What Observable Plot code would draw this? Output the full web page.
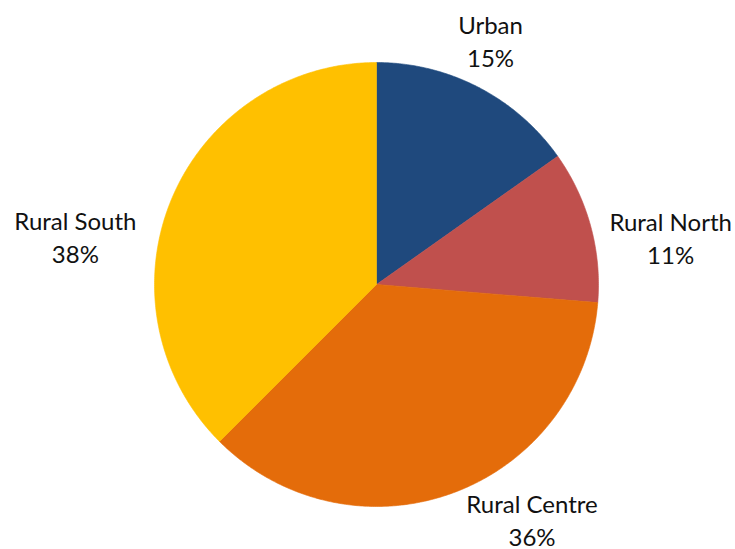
<!DOCTYPE html>
<html>
<head>
<meta charset="utf-8">
<script src="https://cdn.jsdelivr.net/npm/d3@7"></script>
<script src="https://cdn.jsdelivr.net/npm/@observablehq/plot@0.6"></script>
<style>
  html, body { margin: 0; padding: 0; background: #fff; }
  #chart { width: 735px; height: 549px; }
</style>
</head>
<body>
<div id="chart"></div>
<script>
// Data
const categories = ["Urban", "Rural North", "Rural Centre", "Rural South"];
const shares = [15.2, 11.1, 36.2, 37.5];
const percentLabels = ["15%", "11%", "36%", "38%"];
const colors = ["#1F497D", "#C0504D", "#E46C0A", "#FFC000"];

// Layout (pixel geometry, not data)
const W = 735, H = 549;
const cx = 376, cy = 284, R = 222;
const labelNudge = {
  "Urban": [12, -47],
  "Rural North": [80, 11],
  "Rural Centre": [79, 26],
  "Rural South": [-96, 36]
};

const table = categories.map((c, i) => ({name: c, value: shares[i], label: c + "\n" + percentLabels[i]}));
const arcs = d3.pie().sort(null).value(d => d.value)(table);

// build slice outlines from the pie angles
const pts = [];
for (const a of arcs) {
  const n = Math.max(2, Math.ceil((a.endAngle - a.startAngle) / (Math.PI / 360)));
  pts.push({name: a.data.name, x: 0, y: 0});
  for (let k = 0; k <= n; k++) {
    const t = a.startAngle + (a.endAngle - a.startAngle) * k / n;
    pts.push({name: a.data.name, x: R * Math.sin(t), y: R * Math.cos(t)});
  }
  pts.push({name: a.data.name, x: 0, y: 0});
}

const labels = arcs.map(a => {
  const m = (a.startAngle + a.endAngle) / 2;
  const [nx, ny] = labelNudge[a.data.name];
  return {name: a.data.name, label: a.data.label, x: R * Math.sin(m) + nx, y: R * Math.cos(m) - ny};
});

const chart = Plot.plot({
  width: W,
  height: H,
  margin: 0,
  x: {domain: [-cx, W - cx], range: [0, W], axis: null},
  y: {domain: [-(H - cy), cy], range: [H, 0], axis: null},
  color: {domain: categories, range: colors},
  style: {fontFamily: "Lato, 'Open Sans', sans-serif", background: "#fff"},
  marks: [
    Plot.line(pts, {x: "x", y: "y", z: "name", fill: "name", stroke: "name", strokeWidth: 0.6, curve: "linear"}),
    Plot.text(labels, {x: "x", y: "y", text: "label", fontSize: 24, lineHeight: 1.38, fill: "#111", textAnchor: "middle", lineAnchor: "middle"})
  ]
});
document.getElementById("chart").appendChild(chart);
</script>
</body>
</html>
